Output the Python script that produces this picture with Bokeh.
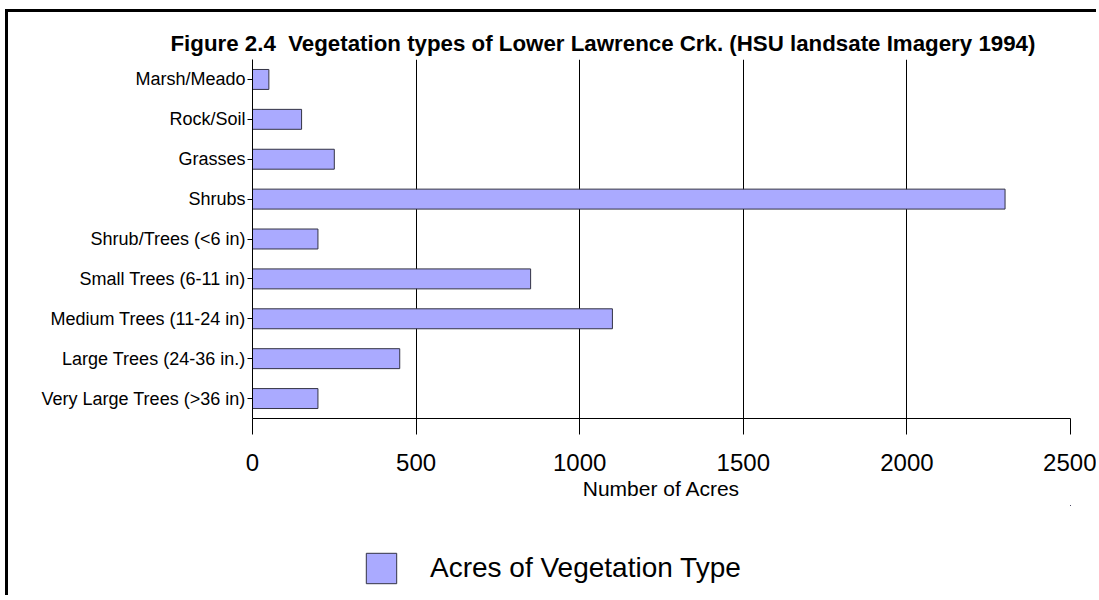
from bokeh.plotting import figure
from bokeh.layouts import column
from bokeh.models import ColumnDataSource, Legend, LegendItem, FactorRange, Title
from bokeh.embed import file_html
from bokeh.resources import INLINE

categories = ["Marsh/Meado", "Rock/Soil", "Grasses", "Shrubs", "Shrub/Trees (<6 in)",
              "Small Trees (6-11 in)", "Medium Trees (11-24 in)", "Large Trees (24-36 in.)",
              "Very Large Trees (>36 in)"]
acres = [50, 150, 250, 2300, 200, 850, 1100, 450, 200]
x_ticks = [0, 500, 1000, 1500, 2000, 2500]
series_name = "Acres of Vegetation Type"
title_text = "Figure 2.4\u00a0 Vegetation types of Lower Lawrence Crk. (HSU landsate Imagery 1994)"

FONT = "Liberation Sans"
FILL = "#aaaaff"
EDGE = "#333344"

src = ColumnDataSource(dict(cat=categories, acres=acres))

p = figure(width=1088, height=493, output_backend="svg", toolbar_location=None,
           y_range=FactorRange(*list(reversed(categories))), x_range=(0, 2500),
           min_border_left=244, min_border_right=26, min_border_top=47, min_border_bottom=87)
p.outline_line_color = None

p.hbar(y="cat", right="acres", left=0, height=0.5, source=src,
       fill_color=FILL, line_color=EDGE, line_width=1)

p.title = Title(text=title_text,
                text_font=FONT, text_font_size="22.3px", text_font_style="bold",
                align="left", offset=-82, standoff=7, text_color="black")

p.xaxis.ticker = x_ticks
p.xaxis.major_label_text_font = FONT
p.xaxis.major_label_text_font_size = "24px"
p.xaxis.major_label_text_color = "black"
p.xaxis.major_tick_in = 0
p.xaxis.major_tick_out = 16
p.xaxis.minor_tick_line_color = None
p.xaxis.major_label_standoff = 19
p.xaxis.axis_label = "Number of Acres"
p.xaxis.axis_label_text_font = FONT
p.xaxis.axis_label_text_font_style = "normal"
p.xaxis.axis_label_text_font_size = "21px"
p.xaxis.axis_label_text_color = "black"
p.xaxis.axis_label_standoff = 3
p.xaxis.axis_line_color = "black"
p.xaxis.major_tick_line_color = "black"

p.yaxis.major_label_text_font = FONT
p.yaxis.major_label_text_font_size = "18px"
p.yaxis.major_label_text_color = "black"
p.yaxis.major_tick_in = 0
p.yaxis.major_tick_out = 5
p.yaxis.major_label_standoff = 2
p.yaxis.axis_line_color = "black"
p.yaxis.major_tick_line_color = "black"

p.xgrid.grid_line_color = "black"
p.xgrid.grid_line_alpha = 1
p.xgrid.ticker = x_ticks
p.ygrid.grid_line_color = None

# legend strip below the chart
lg = figure(width=1088, height=90, output_backend="svg", toolbar_location=None,
            min_border=0, x_range=(0, 1), y_range=(0, 1))
lg.axis.visible = False
lg.grid.visible = False
lg.outline_line_color = None
# key glyph: same data, lying entirely outside this strip's view so only the legend key shows
key = lg.hbar(y="acres", right="acres", left="acres", height=0.5, source=src,
              fill_color=FILL, line_color=EDGE, line_width=1)
legend = Legend(items=[LegendItem(label=series_name, renderers=[key])],
                location=(110, 8), glyph_width=38, glyph_height=38,
                label_standoff=30, label_text_font=FONT, label_text_font_size="28px",
                label_text_color="black",
                label_height=38, padding=0, margin=0, border_line_color=None,
                background_fill_alpha=0)
lg.add_layout(legend, "center")

layout = column(p, lg, spacing=0)
layout.styles = {"border-top": "3px solid black", "border-left": "3px solid black",
                 "margin-left": "5px", "margin-top": "9px"}

open("out.html", "w").write(file_html(layout, INLINE))
